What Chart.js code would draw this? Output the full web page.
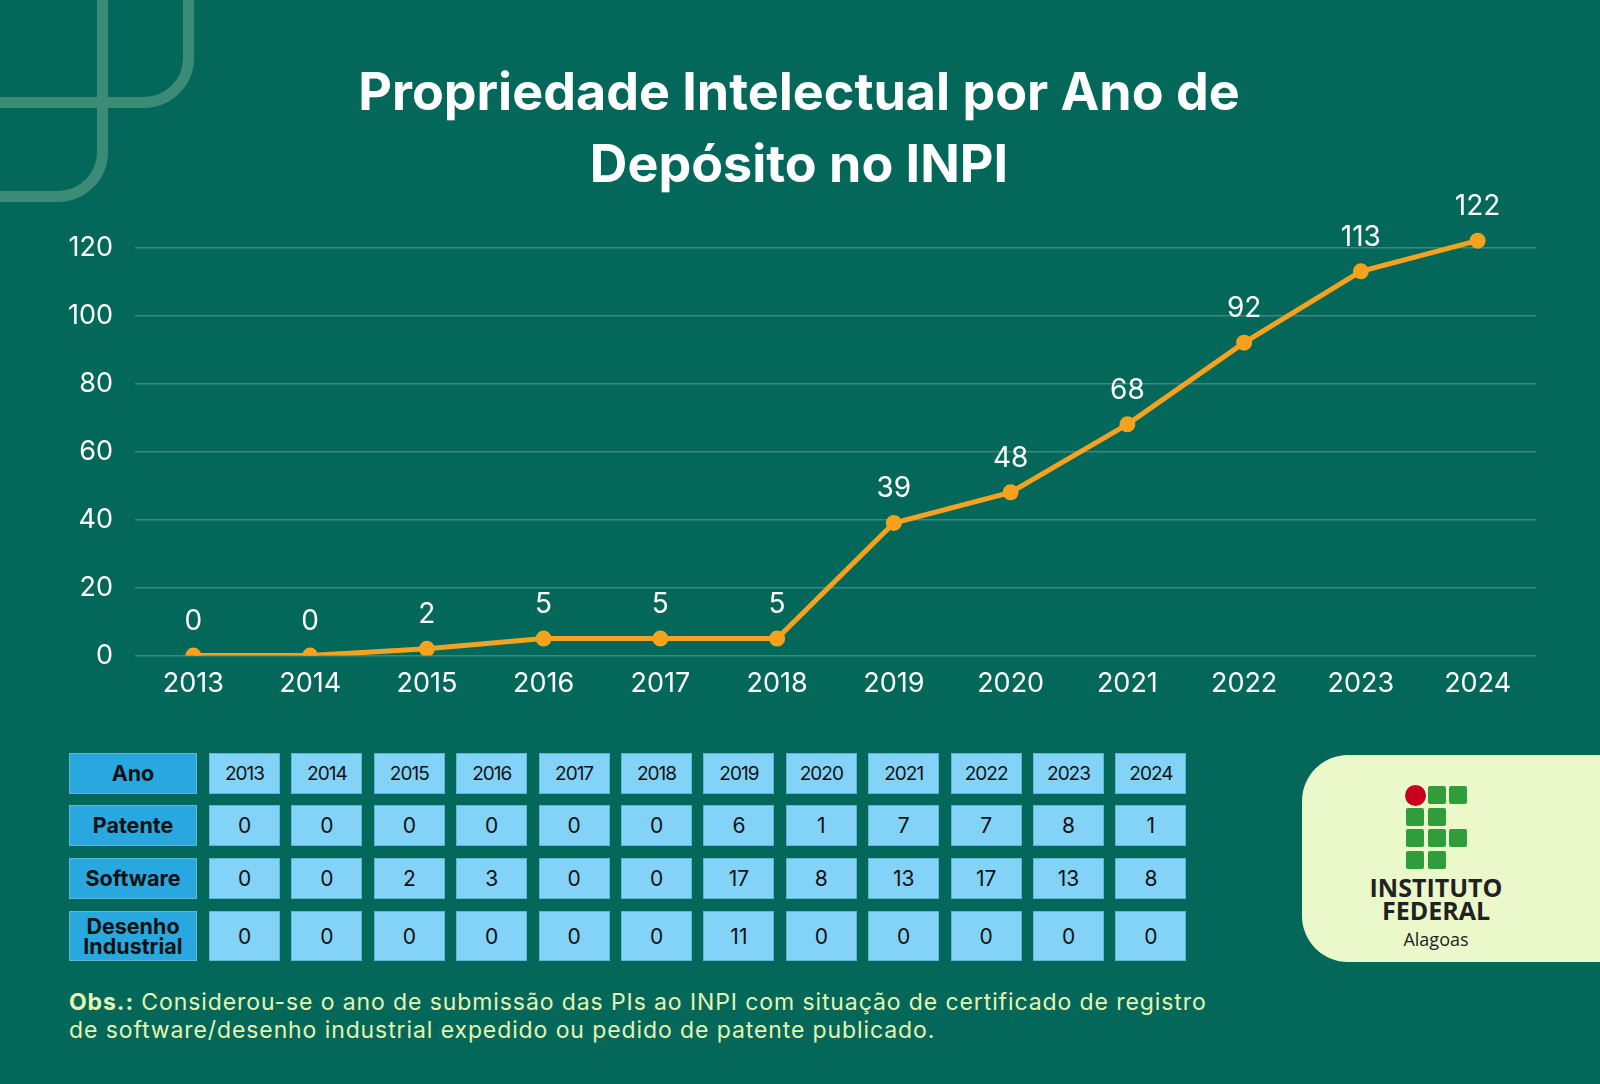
<!DOCTYPE html>
<html>
<head>
<meta charset="utf-8">
<script src="https://cdn.jsdelivr.net/npm/chart.js@4.4.1/dist/chart.umd.min.js"></script>
<style>
  html, body { margin: 0; padding: 0; }
  body {
    width: 1600px; height: 1084px; overflow: hidden;
    background: #03685a; position: relative;
    font-family: Inter, sans-serif;
  }
  .deco { position: absolute; border: 11px solid #3c8b76; border-radius: 0 0 50px 0; box-sizing: border-box; }
  #chartBox { position: absolute; left: 0; top: 0; }
  .cell {
    position: absolute; display: flex; align-items: center; justify-content: center;
    background: #82d3f7; color: #111; font-size: 21px; text-align: center; line-height: 1;
    box-sizing: border-box; border: 1px solid #5db6d8;
  }
  .cell.head { background: #29a8df; font-weight: 700; font-size: 21.5px; }
  .cell.year { font-size: 19px; letter-spacing: -1px; }
  #logo {
    position: absolute; left: 1302px; top: 755px; width: 310px; height: 207px;
    background: #ebf8c9; border-radius: 46px 0 0 46px;
  }
  .sq { position: absolute; width: 18px; height: 18px; background: #2f9d39; border-radius: 2px; }
  .logo-txt { position: absolute; left: 0; width: 268px; text-align: center; font-family: "Open Sans", sans-serif; color: #222; }
  #obs {
    position: absolute; left: 69px; top: 988px; width: 1400px;
    color: #e6f4b2; font-size: 23px; line-height: 28px; letter-spacing: 0.9px;
  }
</style>
</head>
<body>
<div class="deco" style="left:-100px; top:-100px; width:294px; height:208px;"></div>
<div class="deco" style="left:-100px; top:-100px; width:208px; height:302px;"></div>

<div id="chartBox"><canvas id="chart" width="1600" height="720"></canvas></div>

<div id="table"></div>

<div id="logo">
  <div style="position:absolute; left:103px; top:30px; width:21px; height:21px; border-radius:50%; background:#c9001c;"></div>
  <div class="sq" style="left:126px; top:31px;"></div>
  <div class="sq" style="left:147px; top:31px;"></div>
  <div class="sq" style="left:104px; top:53px;"></div>
  <div class="sq" style="left:126px; top:53px;"></div>
  <div class="sq" style="left:104px; top:74px;"></div>
  <div class="sq" style="left:126px; top:74px;"></div>
  <div class="sq" style="left:147px; top:74px;"></div>
  <div class="sq" style="left:104px; top:96px;"></div>
  <div class="sq" style="left:126px; top:96px;"></div>
  <div class="logo-txt" style="top:121px; font-size:25px; font-weight:700; line-height:23px;">INSTITUTO<br>FEDERAL</div>
  <div class="logo-txt" style="top:172px; font-size:18px;">Alagoas</div>
</div>

<div id="obs"><b>Obs.:</b> Considerou-se o ano de submissão das PIs ao INPI com situação de certificado de registro<br>de software/desenho industrial expedido ou pedido de patente publicado.</div>

<script>
const years = ["2013", "2014", "2015", "2016", "2017", "2018", "2019", "2020", "2021", "2022", "2023", "2024"];
const totals = [0, 0, 2, 5, 5, 5, 39, 48, 68, 92, 113, 122];
const patente = [0, 0, 0, 0, 0, 0, 6, 1, 7, 7, 8, 1];
const software = [0, 0, 2, 3, 0, 0, 17, 8, 13, 17, 13, 8];
const desenho = [0, 0, 0, 0, 0, 0, 11, 0, 0, 0, 0, 0];
const rowNames = ["Patente", "Software", "Desenho<br>Industrial"];
const yTicks = [0, 20, 40, 60, 80, 100, 120];

// numbers above each point
const valueLabels = {
  id: 'valueLabels',
  afterDatasetsDraw(chart) {
    const ctx = chart.ctx;
    const meta = chart.getDatasetMeta(0);
    ctx.save();
    ctx.font = '28px Inter';
    ctx.fillStyle = '#ffffff';
    ctx.textAlign = 'center';
    ctx.textBaseline = 'middle';
    meta.data.forEach((pt, i) => {
      ctx.fillText(totals[i], pt.x, pt.y - 34);
    });
    ctx.restore();
  }
};

new Chart(document.getElementById('chart'), {
  type: 'line',
  data: {
    labels: years,
    datasets: [{
      data: totals,
      borderColor: '#f7a21e',
      backgroundColor: '#f7a21e',
      borderWidth: 5,
      pointRadius: 5.5,
      pointHoverRadius: 5.5,
      tension: 0
    }]
  },
  options: {
    responsive: false,
    animation: false,
    layout: { padding: { left: 62, right: 64, top: 0, bottom: 16 } },
    plugins: {
      legend: { display: false },
      tooltip: { enabled: false },
      title: {
        display: true,
        text: ['Propriedade Intelectual por Ano de', 'Depósito no INPI'],
        color: '#ffffff',
        font: { family: 'Inter', size: 52, weight: '700', lineHeight: 1.37 },
        padding: { top: 59, bottom: 29 }
      }
    },
    scales: {
      x: {
        offset: true,
        grid: { display: false },
        border: { display: false },
        ticks: { color: '#ffffff', font: { family: 'Inter', size: 27 }, padding: 4 }
      },
      y: {
        min: 0,
        max: 125,
        border: { display: false },
        grid: { color: 'rgba(255,255,255,0.22)', lineWidth: 1.5, drawTicks: false },
        ticks: { color: '#ffffff', font: { family: 'Inter', size: 27 }, padding: 22, stepSize: 20 },
        afterBuildTicks: (axis) => { axis.ticks = yTicks.map(v => ({ value: v })); },
        afterFit: (axis) => { axis.width = 73; }
      }
    }
  },
  plugins: [valueLabels]
});

// data table under the chart
var table = document.getElementById('table');
var rowTops = [753, 805, 858, 911];
var rowHeights = [41, 41, 41, 50];
var rows = [years, patente, software, desenho];
var heads = ["Ano"].concat(rowNames);
for (var r = 0; r < rows.length; r++) {
  var h = document.createElement('div');
  h.className = 'cell head';
  h.style.cssText = 'left:69px; top:' + rowTops[r] + 'px; width:128px; height:' + rowHeights[r] + 'px;';
  if (r == 3) h.style.lineHeight = '20px';
  h.innerHTML = heads[r];
  table.appendChild(h);
  for (var c = 0; c < years.length; c++) {
    var d = document.createElement('div');
    d.className = r == 0 ? 'cell year' : 'cell';
    d.style.cssText = 'left:' + (209 + c * 82.4) + 'px; top:' + rowTops[r] + 'px; width:71px; height:' + rowHeights[r] + 'px;';
    d.textContent = rows[r][c];
    table.appendChild(d);
  }
}
</script>
</body>
</html>
